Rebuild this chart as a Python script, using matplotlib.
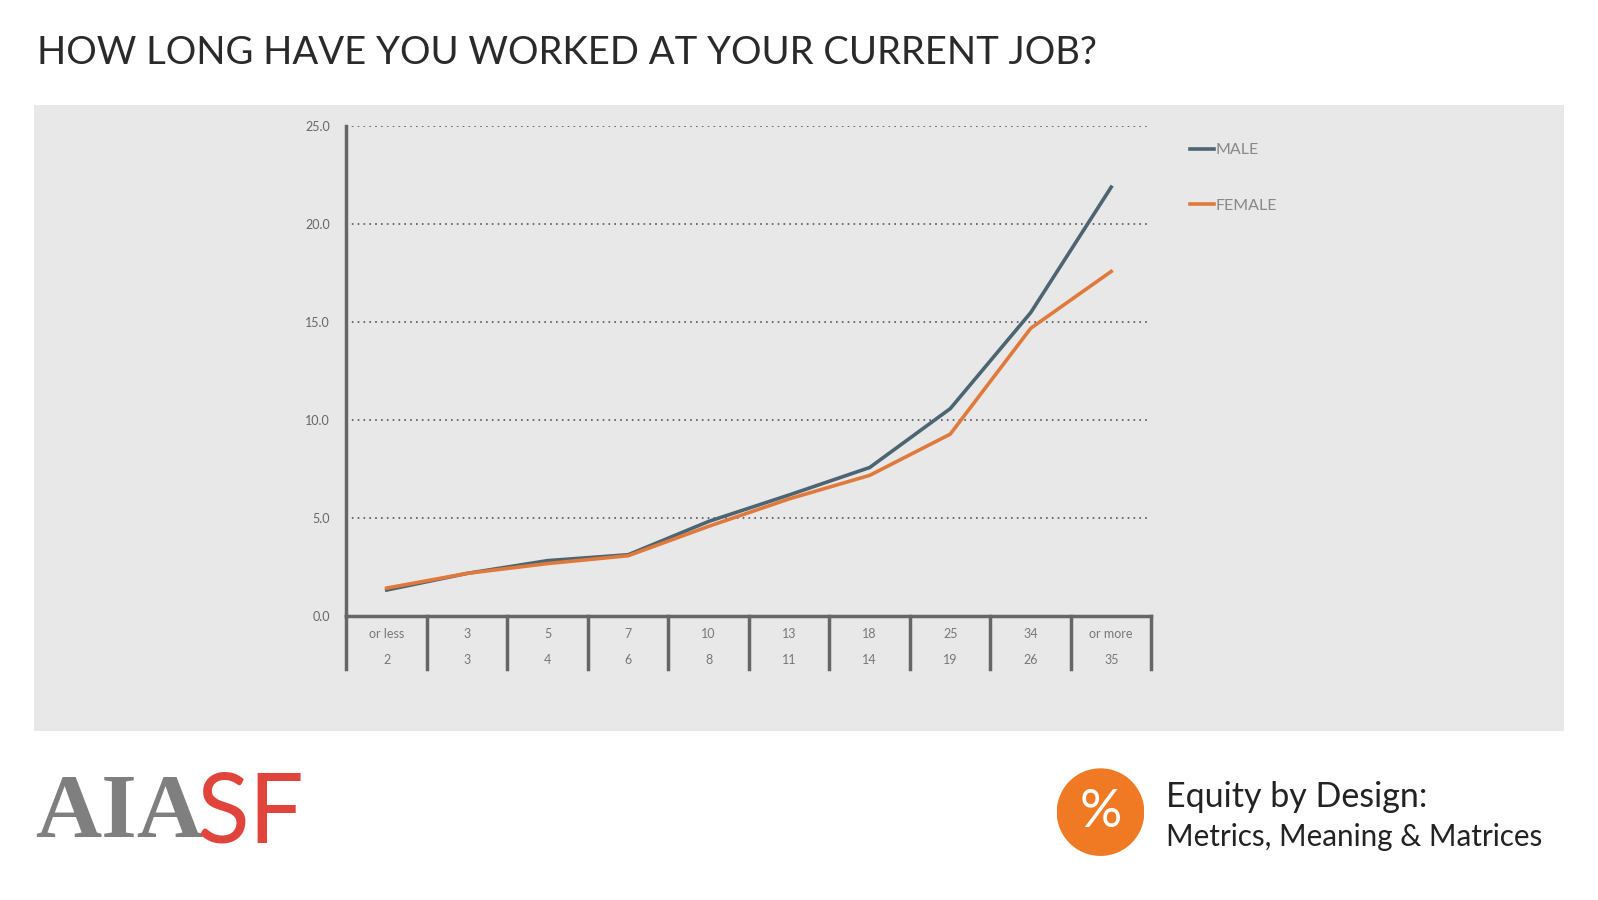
import matplotlib
matplotlib.use("Agg")
import matplotlib.pyplot as plt
from matplotlib.patches import Rectangle, Circle

plt.rcParams['font.family'] = ['Lato', 'DejaVu Sans']

top_labels = ["or less", "3", "5", "7", "10", "13", "18", "25", "34", "or more"]
bottom_labels = ["2", "3", "4", "6", "8", "11", "14", "19", "26", "35"]
male = [1.35, 2.2, 2.85, 3.15, 4.85, 6.2, 7.6, 10.6, 15.5, 21.9]
female = [1.45, 2.2, 2.7, 3.1, 4.6, 6.0, 7.2, 9.3, 14.7, 17.6]
yticks = [0, 5, 10, 15, 20, 25]

W, H = 1598, 900
S = 1.019
def px(v): return v * S

fig = plt.figure(figsize=(W/100, H/100), dpi=100)
fig.patch.set_facecolor('white')

fig.add_artist(Rectangle((px(33)/W, 1-px(717)/H), px(1535-33)/W, px(717-103)/H,
                         transform=fig.transFigure, facecolor='#e8e8e8', edgecolor='none', zorder=-5))

fig.text(px(36)/W, 1-px(52)/H, "HOW LONG HAVE YOU WORKED AT YOUR CURRENT JOB?", fontsize=27.5,
         color='#2a2a2a', va='center', ha='left', family='Lato')

x0, x1, yb, yt = px(340), px(1130), px(605), px(124)
ax = fig.add_axes([x0/W, 1-yb/H, (x1-x0)/W, (yb-yt)/H])
ax.set_facecolor('none')
n = len(male)
xs = [i + 0.5 for i in range(n)]
ax.plot(xs, male, color='#4d6472', lw=2.6, label='MALE')
ax.plot(xs, female, color='#e07a3c', lw=2.6, label='FEMALE')
ax.set_xlim(0, n)
ax.set_ylim(0, 25)
ax.set_yticks(yticks)
ax.set_yticklabels([f"{v:.1f}" for v in yticks], fontsize=9, color='#666666')
ax.tick_params(axis='y', length=0, pad=12)
ax.set_xticks([])
for v in yticks[1:]:
    ax.axhline(v, color='#555555', lw=1.2, ls=(0, (1, 2.5)), zorder=0)
for s in ['top', 'right']:
    ax.spines[s].set_visible(False)
for s in ['left', 'bottom']:
    ax.spines[s].set_color('#666666')
    ax.spines[s].set_linewidth(2.5)

unit = 25 / (yb - yt)
sep_h = px(657-605) * unit
for i in range(n+1):
    ax.plot([i, i], [0, -sep_h], color='#666666', lw=2.5, clip_on=False)
for i in range(n):
    ax.text(xs[i], -px(17)*unit, top_labels[i], ha='center', va='center', fontsize=9, color='#777777', clip_on=False)
    ax.text(xs[i], -px(43)*unit, bottom_labels[i], ha='center', va='center', fontsize=9, color='#777777', clip_on=False)

ax.legend(loc='upper left', bbox_to_anchor=(1.03, 0.995), frameon=False, fontsize=11.5,
          handlelength=1.5, handletextpad=0.1, labelspacing=2.6, labelcolor='#888888')

# AIASF logo
fig.text(px(34)/W, 1-px(800)/H, "AIA", fontsize=66, family='Liberation Serif', fontweight='bold',
         color='#7f7f7f', va='center', ha='left')
fig.text(px(193)/W, 1-px(800)/H, "SF", fontsize=70, family='Lato', color='#e0443a',
         va='center', ha='left')

# equity logo
cx, cy, r = px(1080), px(797), px(43)
ax_c = fig.add_axes([(cx-r)/W, 1-(cy+r)/H, 2*r/W, 2*r/H]); ax_c.axis('off')
ax_c.add_patch(Circle((0.5, 0.5), 0.5, facecolor='#f07a24', edgecolor='none'))
ax_c.set_xlim(0, 1); ax_c.set_ylim(0, 1)
ax_c.text(0.5, 0.5, "%", fontsize=38, color='white', ha='center', va='center')
fig.text(px(1144)/W, 1-px(782)/H, "Equity by Design:", fontsize=24.5, color='#222222', va='center', ha='left')
fig.text(px(1144)/W, 1-px(821)/H, "Metrics, Meaning & Matrices", fontsize=21.3, color='#222222', va='center', ha='left')

fig.savefig("out.png", dpi=100)
